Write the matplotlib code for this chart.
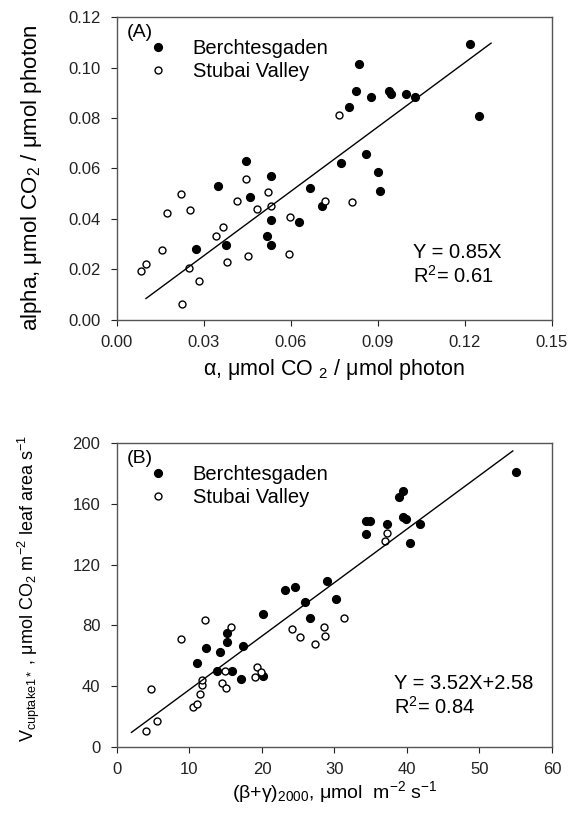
import numpy as np
import matplotlib
matplotlib.use("Agg")
import matplotlib.pyplot as plt
from matplotlib.lines import Line2D

plt.rcParams["font.family"] = ["Liberation Sans", "DejaVu Sans"]
plt.rcParams["mathtext.fontset"] = "custom"
plt.rcParams["mathtext.rm"] = "Liberation Sans"
plt.rcParams["mathtext.it"] = "Liberation Sans"

# Panel A: alpha vs alpha
a_berch_x = [0.0347, 0.0445, 0.0460, 0.0530, 0.0530, 0.0519, 0.0530, 0.0376, 0.0274,
             0.0666, 0.0707, 0.0628, 0.0771, 0.0799, 0.0833, 0.0824, 0.0876, 0.0939,
             0.0945, 0.0995, 0.1028, 0.1218, 0.1247, 0.0858, 0.0900, 0.0907]
a_berch_y = [0.0532, 0.0630, 0.0488, 0.0570, 0.0395, 0.0333, 0.0297, 0.0297, 0.0283,
             0.0524, 0.0450, 0.0390, 0.0622, 0.0845, 0.1012, 0.0906, 0.0883, 0.0908,
             0.0894, 0.0894, 0.0882, 0.1092, 0.0809, 0.0656, 0.0586, 0.0511]
a_stub_x = [0.0084, 0.0100, 0.0156, 0.0172, 0.0220, 0.0252, 0.0248, 0.0282, 0.0224,
            0.0341, 0.0364, 0.0381, 0.0413, 0.0444, 0.0452, 0.0483, 0.0521, 0.0531,
            0.0597, 0.0594, 0.0718, 0.0764, 0.0811]
a_stub_y = [0.0193, 0.0220, 0.0279, 0.0424, 0.0500, 0.0434, 0.0204, 0.0155, 0.0063,
            0.0334, 0.0370, 0.0229, 0.0471, 0.0559, 0.0255, 0.0438, 0.0507, 0.0450,
            0.0407, 0.0262, 0.0471, 0.0813, 0.0467]
a_slope, a_icpt = 0.85, 0.0
a_fit_range = [0.010, 0.129]

# Panel B: Vcuptake vs (beta+gamma)
b_berch_x = [11.0, 12.23, 13.75, 14.16, 15.2, 15.17, 15.86, 17.35, 17.15, 20.2, 20.18,
             23.2, 24.55, 25.9, 26.6, 29.0, 30.25, 34.3, 34.85, 34.3, 37.2, 38.94,
             39.49, 39.49, 39.86, 40.4, 41.8, 55.0]
b_berch_y = [55.5, 65.2, 49.8, 62.4, 75.2, 69.4, 49.8, 66.3, 44.8, 87.6, 46.9,
             103.5, 105.0, 95.4, 85.1, 109.0, 97.5, 148.7, 148.7, 140.3, 146.7, 164.3,
             168.2, 151.1, 150.2, 134.4, 146.5, 180.9]
b_stub_x = [3.95, 5.5, 4.69, 8.87, 10.48, 11.08, 11.45, 11.77, 11.77, 12.12, 14.48,
            14.85, 15.0, 15.77, 19.08, 19.27, 19.9, 24.1, 25.3, 27.3, 28.5, 28.7,
            31.26, 37.2, 37.0]
b_stub_y = [10.7, 16.9, 38.4, 70.8, 26.1, 28.5, 34.9, 40.5, 44.1, 83.4, 42.4,
            49.9, 38.7, 78.7, 46.3, 52.5, 49.5, 77.6, 72.6, 68.0, 78.7, 73.2,
            84.8, 141.0, 135.5]
b_slope, b_icpt = 3.52, 2.58
b_fit_range = [2.0, 54.6]

site_labels = ["Berchtesgaden", "Stubai Valley"]


def draw_panel(ax, bx, by, sx, sy, slope, icpt, fit_range, tag, eq, r2,
               xlim, ylim, xticks, yticks, xfmt, yfmt, eq_pos):
    ax.plot(bx, by, "o", ms=5.6, color="black", ls="none")
    ax.plot(sx, sy, "o", ms=5.0, mfc="white", mec="black", mew=1.0, ls="none")
    xs = np.array(fit_range)
    ax.plot(xs, slope * xs + icpt, color="black", lw=1.0)

    ax.set_xlim(*xlim)
    ax.set_ylim(*ylim)
    ax.set_xticks(xticks)
    ax.set_yticks(yticks)
    ax.set_xticklabels([xfmt.format(v) for v in xticks])
    ax.set_yticklabels([yfmt.format(v) for v in yticks])
    ax.tick_params(direction="out", length=4, width=0.8, labelsize=12,
                   colors="#222222")
    ax.tick_params(axis="x", pad=6.5)
    ax.tick_params(axis="y", pad=8)
    for sp in ax.spines.values():
        sp.set_color("#555555")
        sp.set_linewidth(1.0)

    ax.text(0.022, 0.948, tag, transform=ax.transAxes, fontsize=14,
            ha="left", va="center")
    handles = [
        Line2D([], [], marker="o", ls="none", ms=5.6, color="black"),
        Line2D([], [], marker="o", ls="none", ms=5.0, mfc="white", mec="black", mew=1.0),
    ]
    ax.legend(handles, site_labels, loc="upper left", bbox_to_anchor=(0.049, 0.928),
              frameon=False, fontsize=14.5, borderpad=0, borderaxespad=0,
              handlelength=2.0, handletextpad=0.7, labelspacing=0.22, numpoints=1)
    ax.text(eq_pos[0], eq_pos[1], eq, transform=ax.transAxes, fontsize=14.5,
            ha="left", va="center")
    ax.text(eq_pos[0], eq_pos[1] - 0.078, r2, transform=ax.transAxes, fontsize=14.5,
            ha="left", va="center")


fig = plt.figure(figsize=(5.74, 8.14), dpi=100)
ax1 = fig.add_axes([0.2038, 0.6069, 0.7578, 0.3722])
ax2 = fig.add_axes([0.2038, 0.0823, 0.7578, 0.3735])

draw_panel(ax1, a_berch_x, a_berch_y, a_stub_x, a_stub_y, a_slope, a_icpt, a_fit_range,
           "(A)", "Y = 0.85X", r"R$^2$= 0.61",
           (0, 0.15), (0, 0.12), [0, 0.03, 0.06, 0.09, 0.12, 0.15],
           [0, 0.02, 0.04, 0.06, 0.08, 0.10, 0.12], "{:.2f}", "{:.2f}", (0.68, 0.224))
ax1.set_xlabel(r"α, μmol CO $_2$ / μmol photon", fontsize=15.5, labelpad=5)
ax1.set_ylabel(r"alpha, μmol CO$_2$ / μmol photon", fontsize=16)
ax1.yaxis.set_label_coords(-0.168, 0.47)

draw_panel(ax2, b_berch_x, b_berch_y, b_stub_x, b_stub_y, b_slope, b_icpt, b_fit_range,
           "(B)", "Y = 3.52X+2.58", r"R$^2$= 0.84",
           (0, 60), (0, 200), [0, 10, 20, 30, 40, 50, 60],
           [0, 40, 80, 120, 160, 200], "{:.0f}", "{:.0f}", (0.637, 0.21))
ax2.set_xlabel(r"(β+γ)$_{2000}$, μmol  m$^{-2}$ s$^{-1}$", fontsize=14, labelpad=2)
ax2.set_ylabel(r"V$_{cuptake1*}$ , μmol CO$_2$ m$^{-2}$ leaf area s$^{-1}$",
               fontsize=13)
ax2.yaxis.set_label_coords(-0.172, 0.52)

fig.savefig("out.png", dpi=100)
